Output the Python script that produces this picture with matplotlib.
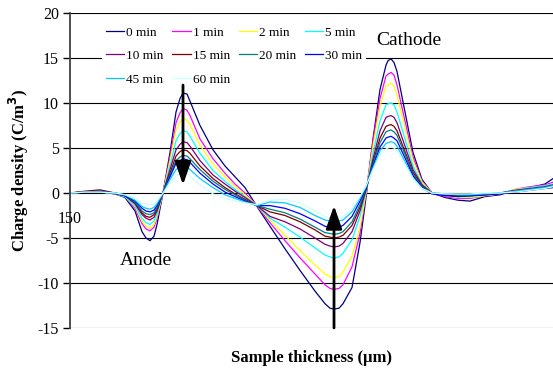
import matplotlib
matplotlib.use("Agg")
import matplotlib.pyplot as plt
from matplotlib.patches import ArrowStyle

plt.rcParams["font.family"] = ["Liberation Serif", "DejaVu Serif"]
plt.rcParams["axes.unicode_minus"] = False

# Sample thickness positions (um) shared by all curves
thickness = [0, 15, 30, 45, 55, 65, 72, 76, 80, 84, 87, 93, 100, 106, 110, 113, 117,
             120, 130, 143, 155, 165, 175, 187, 200, 215, 230, 245, 255, 260, 264,
             269, 273, 282, 290, 296, 303, 310, 316, 318, 321, 324, 327, 335, 343,
             352, 362, 375, 388, 400, 415, 430, 445, 460, 475, 483]

labels = ["0 min", "1 min", "2 min", "5 min", "10 min", "15 min", "20 min",
          "30 min", "45 min", "60 min"]
colors = ["#000080", "#FF00FF", "#FFFF00", "#00FFFF", "#800080", "#800000",
          "#008080", "#0000FF", "#00CCFF", "#CCFFFF"]

# Charge density (C/m^3) for each poling time
min0 = [0.0, 0.1, 0.2, -0.1, -0.5, -2.0, -4.3, -5.0, -5.3, -4.8, -3.5, 0.0, 4.5, 9.0,
        10.5, 11.1, 11.0, 10.2, 7.5, 4.8, 3.0, 1.8, 0.6, -1.5, -3.7, -6.2, -8.6,
        -10.9, -12.3, -12.8, -12.9, -12.8, -12.3, -10.5, -5.5, -0.5, 6.0, 11.5,
        14.2, 14.7, 14.9, 14.5, 13.5, 9.0, 4.5, 1.5, 0.0, -0.5, -0.8, -0.9, -0.4,
        -0.2, 0.3, 0.6, 1.0, 1.6]
min1 = [0.0, 0.1, 0.15, -0.1, -0.4, -1.7, -3.4, -4.0, -4.2, -3.8, -2.8, 0.0, 4.0, 7.8,
        8.9, 9.4, 9.2, 8.6, 6.0, 3.8, 2.2, 1.0, 0.0, -1.4, -3.3, -5.3, -7.2, -9.0,
        -10.2, -10.6, -10.7, -10.6, -10.2, -8.2, -4.5, 0.0, 5.8, 10.5, 13.0, 13.2,
        13.4, 13.1, 12.0, 8.0, 4.0, 1.3, 0.0, -0.4, -0.6, -0.6, -0.3, -0.1, 0.4,
        0.7, 0.9, 1.2]
min2 = [0.0, 0.1, 0.15, -0.1, -0.4, -1.5, -3.1, -3.7, -3.9, -3.5, -2.6, 0.0, 3.6, 7.0,
        7.9, 8.3, 8.1, 7.6, 5.3, 3.2, 1.8, 0.7, -0.2, -1.4, -3.0, -4.7, -6.4, -8.0,
        -9.0, -9.3, -9.4, -9.3, -8.8, -7.0, -3.8, 0.0, 5.2, 9.6, 11.9, 12.0, 12.2,
        11.9, 10.9, 7.2, 3.6, 1.2, 0.0, -0.3, -0.5, -0.5, -0.3, -0.1, 0.4, 0.6,
        0.8, 1.0]
min5 = [0.0, 0.1, 0.1, -0.1, -0.4, -1.4, -2.8, -3.3, -3.5, -3.1, -2.3, 0.0, 3.0, 5.8,
        6.6, 6.9, 6.8, 6.3, 4.4, 2.5, 1.3, 0.4, -0.4, -1.4, -2.8, -3.8, -4.9, -6.1,
        -6.9, -7.1, -7.2, -7.1, -6.7, -5.2, -2.6, 0.2, 4.4, 8.0, 9.8, 9.9, 10.0,
        9.8, 9.0, 6.0, 3.0, 1.0, 0.0, -0.2, -0.4, -0.4, -0.2, 0.0, 0.3, 0.6, 0.8,
        1.0]
min10 = [0.0, 0.15, 0.2, -0.1, -0.3, -1.2, -2.4, -2.8, -3.0, -2.7, -2.0, 0.0, 2.6,
         4.8, 5.4, 5.7, 5.6, 5.2, 3.6, 2.0, 1.0, 0.2, -0.5, -1.4, -2.6, -3.2, -4.0,
         -5.0, -5.7, -5.9, -6.0, -5.9, -5.6, -4.3, -2.0, 0.3, 3.8, 6.9, 8.4, 8.5,
         8.6, 8.4, 7.8, 5.2, 2.6, 0.9, 0.0, -0.2, -0.3, -0.3, -0.2, 0.0, 0.3, 0.5,
         0.7, 0.9]
min15 = [0.0, 0.2, 0.35, 0.0, -0.3, -1.1, -2.2, -2.6, -2.7, -2.4, -1.8, 0.0, 2.2,
         4.1, 4.6, 4.8, 4.7, 4.4, 3.0, 1.6, 0.6, -0.1, -0.7, -1.4, -2.1, -2.5, -3.2,
         -4.1, -4.8, -4.9, -5.0, -4.9, -4.7, -3.6, -1.6, 0.4, 3.4, 6.1, 7.4, 7.5,
         7.6, 7.4, 6.9, 4.6, 2.3, 0.8, 0.0, -0.2, -0.3, -0.3, -0.2, -0.1, 0.2, 0.4,
         0.6, 0.8]
min20 = [0.0, 0.1, 0.2, 0.0, -0.3, -1.0, -2.0, -2.3, -2.4, -2.2, -1.6, 0.0, 2.0,
         3.6, 4.0, 4.2, 4.1, 3.8, 2.6, 1.3, 0.4, -0.2, -0.8, -1.4, -1.8, -2.2, -2.9,
         -3.8, -4.4, -4.5, -4.6, -4.5, -4.3, -3.2, -1.3, 0.5, 3.2, 5.6, 6.8, 6.9,
         7.0, 6.8, 6.4, 4.3, 2.1, 0.7, 0.0, -0.1, -0.2, -0.2, -0.1, 0.0, 0.2, 0.4,
         0.6, 0.8]
min30 = [0.0, 0.1, 0.15, 0.0, -0.3, -0.9, -1.7, -2.0, -2.1, -1.9, -1.4, 0.0, 1.8,
         3.3, 3.6, 3.8, 3.7, 3.4, 2.2, 1.0, 0.1, -0.4, -0.9, -1.4, -1.4, -1.7, -2.3,
         -3.1, -3.7, -3.8, -3.9, -3.8, -3.6, -2.6, -0.9, 0.6, 3.0, 5.1, 6.1, 6.2,
         6.3, 6.1, 5.8, 3.9, 1.9, 0.6, -0.1, -0.3, -0.4, -0.3, -0.2, -0.1, 0.1, 0.3,
         0.5, 0.6]
min45 = [0.0, 0.1, 0.1, 0.0, -0.2, -0.8, -1.5, -1.7, -1.8, -1.6, -1.2, 0.0, 1.5,
         2.6, 2.9, 3.0, 2.9, 2.6, 1.6, 0.6, -0.2, -0.6, -1.0, -1.4, -1.0, -1.1, -1.6,
         -2.5, -3.0, -3.1, -3.2, -3.1, -3.0, -2.1, -0.6, 0.7, 2.8, 4.7, 5.5, 5.6,
         5.7, 5.6, 5.2, 3.5, 1.7, 0.5, 0.0, -0.1, -0.2, -0.2, -0.1, 0.0, 0.2, 0.4,
         0.6, 0.8]
min60 = [0.0, 0.1, 0.1, 0.0, -0.2, -0.6, -1.1, -1.2, -1.3, -1.2, -0.9, 0.0, 1.1,
         1.9, 2.1, 2.2, 2.2, 1.9, 0.9, -0.1, -0.6, -0.9, -1.1, -1.3, -0.8, -0.7,
         -1.1, -2.0, -2.6, -2.8, -2.8, -2.7, -2.6, -1.8, -0.4, 0.8, 2.6, 4.2, 4.9,
         5.0, 5.1, 5.0, 4.7, 3.2, 1.6, 0.5, 0.0, -0.1, -0.1, -0.1, 0.0, 0.0, 0.1,
         0.3, 0.5, 0.7]

series = [min0, min1, min2, min5, min10, min15, min20, min30, min45, min60]
y_ticks = [-15, -10, -5, 0, 5, 10, 15, 20]


def main() -> None:
    fig = plt.figure(figsize=(5.53, 3.70), dpi=100)
    ax = fig.add_axes([0.1266, 0.1135, 0.8734, 0.8514])

    # Draw each curve
    handles = []
    for values, label, color in zip(series, labels, colors):
        line, = ax.plot(thickness, values, color=color, lw=0.9, label=label,
                        solid_joinstyle="round")
        handles.append(line)

    ax.set_xlim(0, 483)
    ax.set_ylim(-15, 20)
    ax.set_yticks(y_ticks)
    ax.set_xticks([])
    ax.tick_params(axis="y", labelsize=11.5, length=5, width=1, pad=3)
    ax.yaxis.grid(True, color="black", lw=0.8)
    ax.set_axisbelow(True)
    for side in ("top", "right", "bottom"):
        ax.spines[side].set_visible(False)
    ax.spines["left"].set_color("#404040")
    ax.spines["left"].set_linewidth(1.3)

    ax.set_ylabel("Charge density (C/m$^\\mathbf{3}$)", fontsize=12, fontweight="bold", labelpad=5)
    ax.set_xlabel("Sample thickness (\u00b5m)", fontsize=12, fontweight="bold", labelpad=16)

    # Stray category label and electrode annotations
    ax.text(0, -2.9, "150", fontsize=11.5, ha="center", va="center")
    ax.text(306, 16.9, "Cathode", fontsize=14, ha="left", va="center")
    ax.text(50, -7.5, "Anode", fontsize=14, ha="left", va="center")

    # Time-evolution arrows
    style = ArrowStyle("-|>", head_length=1.0, head_width=0.35)
    ax.annotate("", xy=(113, 0.6), xytext=(113, 12.3),
                arrowprops=dict(arrowstyle=style, lw=2, color="black", mutation_scale=14),
                zorder=6)
    ax.annotate("", xy=(264, -1.1), xytext=(264, -15.3),
                arrowprops=dict(arrowstyle=style, lw=2, color="black", mutation_scale=14),
                zorder=6, annotation_clip=False)

    # Legend laid out row-wise in four columns
    order = [0, 4, 8, 1, 5, 9, 2, 6, 3, 7]
    leg = ax.legend([handles[i] for i in order], [labels[i] for i in order],
                    ncol=4, loc="upper left", bbox_to_anchor=(0.066, 0.97),
                    borderaxespad=0, fontsize=9.5, handlelength=1.4,
                    handletextpad=0.15, columnspacing=0.65, labelspacing=0.85,
                    frameon=True, facecolor="white", edgecolor="none",
                    framealpha=1, borderpad=0.3)
    leg.set_zorder(5)

    fig.savefig("out.png", dpi=100)


main()
